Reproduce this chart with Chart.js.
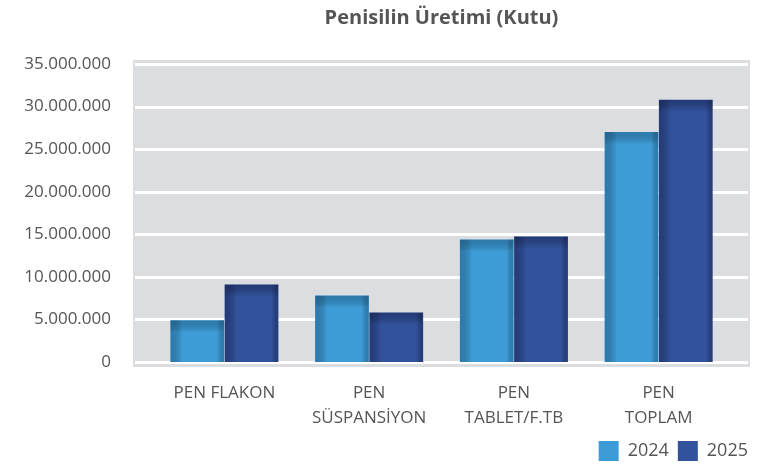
<!DOCTYPE html>
<html>
<head>
<meta charset="utf-8">
<script src="https://cdn.jsdelivr.net/npm/chart.js@4/dist/chart.umd.min.js"></script>
<style>
  html, body { margin: 0; padding: 0; background: #fff; }
  #wrap { width: 757px; height: 471px; }
</style>
</head>
<body>
<div id="wrap"><canvas id="chart"></canvas></div>
<script>
const CATEGORIES = ['PEN FLAKON', ['PEN', 'SÜSPANSİYON'], ['PEN', 'TABLET/F.TB'], ['PEN', 'TOPLAM']];
const VALUES_2024 = [4900000, 7800000, 14400000, 27000000];
const VALUES_2025 = [9100000, 5800000, 14750000, 30800000];
const SERIES_NAMES = ['2024', '2025'];
const Y_MAX = 35000000;
const Y_STEP = 5000000;

const COLOR_2024 = '#3d9bd5';
const COLOR_2025 = '#32529c';
const EDGE_2024 = 'rgba(25, 85, 125, 0.45)';
const EDGE_2025 = 'rgba(20, 30, 75, 0.45)';
const PLOT_BLEED = 19; // gray panel reaches past the category range

const fmt = (v) => String(v).replace(/\B(?=(\d{3})+(?!\d))/g, '.');

// gray plot panel with white gridlines, wider than the category range
const plotBackground = {
  id: 'plotBackground',
  beforeDatasetsDraw(chart) {
    const { ctx, chartArea: a, scales } = chart;
    const left = a.left - PLOT_BLEED, right = a.right + PLOT_BLEED;
    ctx.save();
    ctx.fillStyle = '#dcdde0';
    ctx.fillRect(left, a.top - 4, right - left, a.bottom - a.top + 9);
    ctx.strokeStyle = '#ffffff';
    ctx.lineWidth = 3;
    scales.y.ticks.forEach((t) => {
      const y = Math.round(scales.y.getPixelForValue(t.value)) + 0.5;
      ctx.beginPath();
      ctx.moveTo(left + 2, y);
      ctx.lineTo(right - 2, y);
      ctx.stroke();
    });
    ctx.restore();
  },
};

// darker inner edges on each bar
const barShading = {
  id: 'barShading',
  afterDatasetDraw(chart, args) {
    const { ctx } = chart;
    const edge = args.index === 0 ? EDGE_2024 : EDGE_2025;
    args.meta.data.forEach((bar) => {
      const { x, y, base, width } = bar.getProps(['x', 'y', 'base', 'width'], true);
      const l = x - width / 2, r = x + width / 2, t = y, b = base;
      const h = b - t;
      ctx.save();
      ctx.beginPath();
      ctx.rect(l, t, width, h);
      ctx.clip();
      let g = ctx.createLinearGradient(0, t, 0, t + 12);
      g.addColorStop(0, edge);
      g.addColorStop(1, 'rgba(0,0,0,0)');
      ctx.fillStyle = g;
      ctx.fillRect(l, t, width, Math.min(12, h));
      g = ctx.createLinearGradient(l, 0, l + 12, 0);
      g.addColorStop(0, edge);
      g.addColorStop(1, 'rgba(0,0,0,0)');
      ctx.fillStyle = g;
      ctx.fillRect(l, t, 12, h);
      g = ctx.createLinearGradient(r, 0, r - 7, 0);
      g.addColorStop(0, edge);
      g.addColorStop(1, 'rgba(0,0,0,0)');
      ctx.fillStyle = g;
      ctx.fillRect(r - 7, t, 7, h);
      ctx.restore();
    });
  },
};

new Chart(document.getElementById('chart'), {
  type: 'bar',
  data: {
    labels: CATEGORIES,
    datasets: [
      { label: SERIES_NAMES[0], data: VALUES_2024, backgroundColor: COLOR_2024 },
      { label: SERIES_NAMES[1], data: VALUES_2025, backgroundColor: COLOR_2025 },
    ],
  },
  options: {
    responsive: true,
    maintainAspectRatio: false,
    animation: false,
    datasets: {
      bar: { categoryPercentage: 0.75, barPercentage: 0.99 },
    },
    layout: { padding: { top: 6, right: 0, bottom: 0, left: 0 } },
    plugins: {
      title: {
        display: true,
        text: 'Penisilin Üretimi (Kutu)',
        fullSize: false,
        color: '#555555',
        font: { family: 'Open Sans', size: 20, weight: 'bold' },
        padding: { top: 0, bottom: 34 },
      },
      legend: {
        position: 'bottom',
        align: 'end',
        labels: {
          boxWidth: 20,
          boxHeight: 20,
          padding: 9,
          color: '#555555',
          font: { family: 'Open Sans', size: 18 },
        },
      },
      tooltip: { enabled: false },
    },
    scales: {
      x: {
        afterFit: (s) => { s.height = 70; },
        grid: { display: false, drawTicks: false },
        border: { display: false },
        ticks: {
          padding: 19,
          color: '#555555',
          font: { family: 'Open Sans', size: 17, lineHeight: 1.45 },
          maxRotation: 0,
          autoSkip: false,
        },
      },
      y: {
        min: 0,
        max: Y_MAX,
        afterFit: (s) => { s.width = 152; },
        grid: { display: false, drawTicks: false },
        border: { display: false },
        ticks: {
          stepSize: Y_STEP,
          padding: 41,
          color: '#555555',
          font: { family: 'Open Sans', size: 17 },
          callback: (v) => fmt(v),
        },
      },
      // empty right axis, only reserves room for the panel bleed
      yRight: {
        position: 'right',
        min: 0,
        max: Y_MAX,
        afterFit: (s) => { s.width = 26; },
        grid: { display: false, drawTicks: false },
        border: { display: false },
        ticks: { display: false },
      },
    },
  },
  plugins: [plotBackground, barShading],
});
</script>
</body>
</html>
